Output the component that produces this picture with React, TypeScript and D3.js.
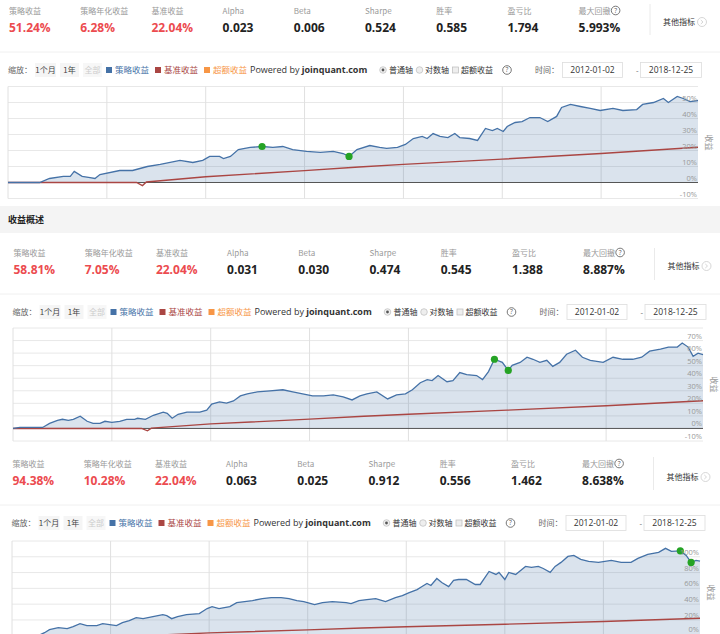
import React from 'react';
import * as d3 from 'd3';

const LATIN = "'Open Sans','Noto Sans CJK SC',sans-serif";
const CJK = "'Noto Sans CJK SC','Open Sans',sans-serif";

const STAT_LABELS = ['策略收益', '策略年化收益', '基准收益', 'Alpha', 'Beta', 'Sharpe', '胜率', '盈亏比', '最大回撤'];
const STAT_VALUES_1 = ['51.24%', '6.28%', '22.04%', '0.023', '0.006', '0.524', '0.585', '1.794', '5.993%'];
const STAT_VALUES_2 = ['58.81%', '7.05%', '22.04%', '0.031', '0.030', '0.474', '0.545', '1.388', '8.887%'];
const STAT_VALUES_3 = ['94.38%', '10.28%', '22.04%', '0.063', '0.025', '0.912', '0.556', '1.462', '8.638%'];

const DATE_FROM = '2012-01-02';
const DATE_TO = '2018-12-25';
const T_START = 2012.0;
const T_END = 2018.98;
const YEAR_LINES = [2013, 2014, 2015, 2016, 2017, 2018];

const Y_TICKS_1 = [-10, 0, 10, 20, 30, 40, 50, 60];
const Y_TICKS_2 = [-10, 0, 10, 20, 30, 40, 50, 60, 70, 80];
const Y_TICKS_3 = [-20, 0, 20, 40, 60, 80, 100, 120];

// benchmark (same in all three backtests), [year, %]
const BENCHMARK: [number, number][] = [
  [2012.0, 0], [2013.3, 0], [2013.36, -1.9], [2013.4, 0.3], [2014.0, 3.6], [2015.0, 7.4],
  [2015.55, 9.7], [2016.0, 11.3], [2017.0, 14.6], [2018.0, 18.1], [2018.98, 22.04],
];

const STRATEGY_1: [number, number][] = [
  [2012.0, 0], [2012.32, 0], [2012.42, 2.5], [2012.56, 3.8], [2012.63, 3.8], [2012.67, 6.9], [2012.75, 3.8],
  [2012.83, 3.1], [2012.88, 2.5], [2012.93, 5.0], [2013.13, 7.5], [2013.26, 7.5], [2013.41, 10.0], [2013.54, 11.3],
  [2013.74, 13.8], [2013.87, 12.5], [2013.97, 13.8], [2014.04, 16.3], [2014.14, 16.3], [2014.18, 15.0], [2014.25, 16.3],
  [2014.33, 20.6], [2014.45, 21.9], [2014.57, 22.5], [2014.68, 21.9], [2014.78, 22.5], [2014.88, 20.6], [2015.02, 19.4],
  [2015.16, 18.8], [2015.29, 19.4], [2015.39, 18.1], [2015.45, 16.3], [2015.53, 20.6], [2015.66, 23.1], [2015.76, 21.9],
  [2015.83, 21.3], [2015.94, 21.9], [2016.02, 23.8], [2016.1, 27.5], [2016.19, 28.8], [2016.24, 27.5], [2016.3, 30.6],
  [2016.37, 28.8], [2016.45, 28.1], [2016.52, 30.6], [2016.57, 28.1], [2016.67, 27.5], [2016.75, 26.3], [2016.83, 33.8],
  [2016.9, 32.5], [2016.95, 33.8], [2017.01, 31.9], [2017.05, 35.0], [2017.13, 37.5], [2017.2, 38.1], [2017.28, 40.6],
  [2017.38, 40.6], [2017.46, 38.1], [2017.55, 41.3], [2017.6, 46.9], [2017.69, 48.8], [2017.79, 47.5], [2017.89, 46.3],
  [2017.99, 45.0], [2018.12, 46.3], [2018.22, 45.0], [2018.36, 45.6], [2018.42, 48.8], [2018.53, 50.0], [2018.63, 52.5],
  [2018.68, 50.0], [2018.77, 53.8], [2018.83, 52.5], [2018.9, 50.6], [2018.98, 51.24],
];
const DRAWDOWN_1: [number, number][] = [[2014.57, 22.5], [2015.45, 16.3]];

const STRATEGY_2: [number, number][] = [
  [2012.0, 0], [2012.07, 0.8], [2012.14, 0.8], [2012.3, 0.8], [2012.37, 4.0], [2012.45, 6.5], [2012.5, 7.3],
  [2012.56, 6.5], [2012.61, 7.3], [2012.68, 9.7], [2012.75, 5.7], [2012.81, 4.0], [2012.88, 4.0], [2012.93, 5.7],
  [2013.0, 4.9], [2013.08, 5.7], [2013.15, 7.3], [2013.23, 7.3], [2013.26, 8.1], [2013.34, 7.3], [2013.42, 10.5],
  [2013.52, 13.0], [2013.56, 12.1], [2013.61, 8.1], [2013.67, 11.3], [2013.76, 13.0], [2013.89, 13.0], [2013.96, 14.6],
  [2014.01, 19.4], [2014.09, 21.1], [2014.16, 20.2], [2014.23, 21.9], [2014.3, 25.9], [2014.37, 27.5], [2014.47, 29.1],
  [2014.6, 30.0], [2014.73, 30.8], [2014.83, 29.1], [2014.93, 27.5], [2015.03, 25.9], [2015.14, 25.9], [2015.24, 26.7],
  [2015.34, 25.1], [2015.43, 22.7], [2015.51, 25.9], [2015.58, 27.5], [2015.68, 29.1], [2015.79, 23.5], [2015.88, 26.7],
  [2015.97, 27.5], [2016.04, 30.8], [2016.12, 36.4], [2016.19, 38.9], [2016.24, 38.1], [2016.3, 42.1], [2016.39, 37.2],
  [2016.45, 38.1], [2016.52, 44.5], [2016.59, 42.9], [2016.69, 42.1], [2016.75, 38.9], [2016.81, 45.3], [2016.87, 55.1],
  [2016.95, 52.6], [2017.01, 46.2], [2017.05, 50.2], [2017.13, 52.6], [2017.2, 56.7], [2017.26, 55.1], [2017.33, 52.6],
  [2017.4, 54.3], [2017.46, 49.4], [2017.53, 52.6], [2017.6, 59.1], [2017.69, 62.3], [2017.76, 56.7], [2017.84, 54.3],
  [2017.97, 52.6], [2018.07, 56.7], [2018.17, 55.1], [2018.27, 55.1], [2018.36, 56.7], [2018.44, 61.5], [2018.55, 63.2],
  [2018.63, 64.8], [2018.72, 64.8], [2018.77, 68.0], [2018.83, 64.8], [2018.88, 57.5], [2018.93, 59.9], [2018.98, 58.81],
];
const DRAWDOWN_2: [number, number][] = [[2016.87, 55.1], [2017.01, 46.2]];

const STRATEGY_3: [number, number][] = [
  [2012.0, 0], [2012.07, 0.5], [2012.28, 1.0], [2012.33, 3.8], [2012.38, 7.6], [2012.47, 10.2], [2012.56, 8.9],
  [2012.62, 11.5], [2012.69, 15.3], [2012.76, 12.7], [2012.86, 12.7], [2012.92, 15.3], [2012.99, 14.0], [2013.06, 12.7],
  [2013.12, 16.5], [2013.19, 19.1], [2013.26, 22.9], [2013.33, 21.6], [2013.43, 24.2], [2013.53, 26.7], [2013.57, 25.4],
  [2013.62, 21.6], [2013.68, 24.2], [2013.77, 26.7], [2013.9, 28.0], [2013.98, 34.4], [2014.03, 36.9], [2014.1, 34.4],
  [2014.21, 36.9], [2014.28, 42.0], [2014.36, 43.3], [2014.44, 44.5], [2014.54, 47.1], [2014.63, 48.3], [2014.73, 48.3],
  [2014.81, 47.1], [2014.89, 44.5], [2014.96, 43.3], [2015.07, 39.4], [2015.15, 42.0], [2015.25, 43.3], [2015.39, 42.0],
  [2015.44, 40.7], [2015.52, 44.5], [2015.6, 45.8], [2015.69, 47.1], [2015.79, 43.3], [2015.89, 48.3], [2015.96, 50.9],
  [2016.03, 54.7], [2016.11, 58.5], [2016.16, 62.3], [2016.21, 66.2], [2016.25, 63.6], [2016.31, 72.5], [2016.36, 67.4],
  [2016.43, 62.3], [2016.48, 70.0], [2016.53, 71.2], [2016.61, 71.2], [2016.7, 64.9], [2016.75, 64.9], [2016.84, 81.4],
  [2016.91, 77.6], [2016.94, 80.2], [2017.0, 71.2], [2017.04, 80.2], [2017.11, 77.6], [2017.16, 82.7], [2017.21, 87.8],
  [2017.27, 86.5], [2017.34, 87.8], [2017.39, 85.2], [2017.46, 80.2], [2017.51, 87.8], [2017.57, 92.9], [2017.64, 100.5],
  [2017.7, 101.8], [2017.77, 96.7], [2017.85, 94.1], [2017.95, 92.9], [2018.08, 95.4], [2018.18, 92.9], [2018.28, 92.9],
  [2018.35, 98.0], [2018.45, 103.1], [2018.56, 105.6], [2018.63, 110.7], [2018.69, 106.9], [2018.78, 107.5],
  [2018.84, 101.8], [2018.89, 92.9], [2018.94, 95.4], [2018.98, 94.38],
];
const DRAWDOWN_3: [number, number][] = [[2018.78, 107.5], [2018.89, 92.9]];

const BLUE = '#4572a7';
const RED = '#aa4643';
const ORANGE = '#f79646';
const VALUE_RED = '#ec4b4f';
const PAGE_H = 634;

type Cfg = {
  dx: number; labelY: number; valueY: number; sepTop: number; sepBottom: number; otherY: number;
  toolY: number; L: number; R: number; top: number; bottom: number; ticks: number[];
};

function QIcon({ x, y }: { x: number; y: number }) {
  return (
    <g>
      <circle cx={x} cy={y} r={4.3} fill="none" stroke="#555" strokeWidth={0.8} />
      <text x={x} y={y + 2.4} textAnchor="middle" fontSize={6.5} fill="#555" fontFamily={LATIN}>?</text>
    </g>
  );
}

function Stats({ cfg, values }: { cfg: Cfg; values: string[] }) {
  const colX = (i: number) => 9 + cfg.dx + i * 71.2;
  return (
    <g>
      {STAT_LABELS.map((l, i) => (
        <text key={'l' + i} x={colX(i)} y={cfg.labelY} fontSize={8} fill="#999" fontFamily={CJK}>{l}</text>
      ))}
      <QIcon x={colX(8) + 37} y={cfg.labelY - 3} />
      {values.map((v, i) => (
        <text key={'v' + i} x={colX(i)} y={cfg.valueY} fontSize={12} fontWeight="bold"
          fill={i < 3 ? VALUE_RED : '#222'} fontFamily={LATIN}>{v}</text>
      ))}
      <line x1={650 + cfg.dx} x2={650 + cfg.dx} y1={cfg.sepTop} y2={cfg.sepBottom} stroke="#eaeaea" />
      <text x={663 + cfg.dx} y={cfg.otherY + 3} fontSize={8} fill="#333" fontFamily={CJK}>其他指标</text>
      <circle cx={702 + cfg.dx} cy={cfg.otherY} r={4.5} fill="none" stroke="#ccc" strokeWidth={0.8} />
      <path d={`M${700.8 + cfg.dx},${cfg.otherY - 2} L${703 + cfg.dx},${cfg.otherY} L${700.8 + cfg.dx},${cfg.otherY + 2}`}
        fill="none" stroke="#ccc" strokeWidth={0.8} />
    </g>
  );
}

function Toolbar({ cfg }: { cfg: Cfg }) {
  const y = cfg.toolY;
  const ty = y + 3;
  const d = cfg.dx;
  return (
    <g fontFamily={CJK} fontSize={8}>
      <line x1={0} x2={720} y1={y - 18} y2={y - 18} stroke="#f0f0f0" />
      <text x={8 + d} y={ty} fill="#666">缩放：</text>
      <rect x={35 + d} y={y - 7} width={21} height={14} fill="#f5f5f5" />
      <text x={45.5 + d} y={ty} textAnchor="middle" fill="#444">1个月</text>
      <rect x={60 + d} y={y - 7} width={19} height={14} fill="#f5f5f5" />
      <text x={69.5 + d} y={ty} textAnchor="middle" fill="#444">1年</text>
      <rect x={83 + d} y={y - 7} width={19} height={14} fill="#f7f7f7" />
      <text x={92.5 + d} y={ty} textAnchor="middle" fill="#ccc">全部</text>
      <rect x={106 + d} y={y - 3} width={6} height={6} fill={BLUE} />
      <text x={115 + d} y={ty} fill={BLUE} fontSize={8.5}>策略收益</text>
      <rect x={155 + d} y={y - 3} width={6} height={6} fill={RED} />
      <text x={164 + d} y={ty} fill={RED} fontSize={8.5}>基准收益</text>
      <rect x={204 + d} y={y - 3} width={6} height={6} fill={ORANGE} />
      <text x={213 + d} y={ty} fill={ORANGE} fontSize={8.5}>超额收益</text>
      <text x={250 + d} y={ty} fill="#333" fontFamily={LATIN} fontSize={9}>
        Powered by <tspan fontWeight="bold">joinquant.com</tspan>
      </text>
      <circle cx={383 + d} cy={y} r={3.3} fill="#f0f0f0" stroke="#bbb" strokeWidth={0.7} />
      <circle cx={383 + d} cy={y} r={1.4} fill="#555" />
      <text x={389 + d} y={ty} fill="#333">普通轴</text>
      <circle cx={419.5 + d} cy={y} r={3.3} fill="#eee" stroke="#bbb" strokeWidth={0.7} />
      <text x={425 + d} y={ty} fill="#333">对数轴</text>
      <rect x={452.5 + d} y={y - 3} width={6} height={6} fill="#eee" stroke="#bbb" strokeWidth={0.7} />
      <text x={461 + d} y={ty} fill="#333">超额收益</text>
      <QIcon x={507 + d} y={y} />
      <text x={535 + d} y={ty} fill="#666">时间：</text>
      <rect x={562.5 + d} y={y - 7.5} width={60} height={15} fill="#fff" stroke="#ddd" strokeWidth={0.8} />
      <text x={592.5 + d} y={ty} textAnchor="middle" fill="#333" fontFamily={LATIN} fontSize={8.5}>{DATE_FROM}</text>
      <text x={636 + d} y={ty} fill="#666" fontFamily={LATIN}>-</text>
      <rect x={640.5 + d} y={y - 7.5} width={61} height={15} fill="#fff" stroke="#ddd" strokeWidth={0.8} />
      <text x={671 + d} y={ty} textAnchor="middle" fill="#333" fontFamily={LATIN} fontSize={8.5}>{DATE_TO}</text>
    </g>
  );
}

function Chart({ cfg, strategy, drawdown }: { cfg: Cfg; strategy: [number, number][]; drawdown: [number, number][] }) {
  const ticks = cfg.ticks;
  const x = d3.scaleLinear().domain([T_START, T_END]).range([cfg.L, cfg.R]);
  const y = d3.scaleLinear().domain([ticks[0], ticks[ticks.length - 1]]).range([cfg.bottom, cfg.top]);
  const line = d3.line<[number, number]>().x(d => x(d[0])).y(d => y(d[1]));
  const area = d3.area<[number, number]>().x(d => x(d[0])).y0(y(0)).y1(d => y(d[1]));
  const id = 'clip' + cfg.toolY;
  const labelTicks = ticks.slice(0, -1).filter(t => y(t) - 2 < PAGE_H + 2);
  return (
    <g>
      <defs>
        <clipPath id={id}><rect x={cfg.L} y={cfg.top - 5} width={cfg.R - cfg.L + 4} height={cfg.bottom - cfg.top + 5} /></clipPath>
      </defs>
      {ticks.map(t => (
        <line key={'h' + t} x1={cfg.L} x2={cfg.R} y1={y(t)} y2={y(t)} stroke="#e8e8e8" />
      ))}
      {YEAR_LINES.map(yr => (
        <line key={'v' + yr} x1={x(yr)} x2={x(yr)} y1={cfg.top} y2={cfg.bottom} stroke="#e0e0e0" />
      ))}
      <line x1={cfg.L} x2={cfg.L} y1={cfg.top} y2={cfg.bottom} stroke="#e0e0e0" />
      <g clipPath={`url(#${id})`}>
        <path d={area(strategy) || ''} fill={BLUE} fillOpacity={0.2} />
        <line x1={cfg.L} x2={cfg.R} y1={y(0)} y2={y(0)} stroke="#555" strokeWidth={1} />
        <path d={line(BENCHMARK) || ''} fill="none" stroke={RED} strokeWidth={1.4} />
        <path d={line(strategy) || ''} fill="none" stroke={BLUE} strokeWidth={1.3} />
      </g>
      {drawdown.map((p, i) => (
        <circle key={'d' + i} cx={x(p[0])} cy={y(p[1])} r={3.6} fill="#25a325" />
      ))}
      {labelTicks.map(t => (
        <text key={'t' + t} x={cfg.R - 1} y={Math.min(y(t) - 2, PAGE_H - 2)} textAnchor="end" fontSize={7.5}
          fill="#999" fontFamily={LATIN}>{t}%</text>
      ))}
      <text transform={`translate(${cfg.R + 8},${(cfg.top + Math.min(cfg.bottom, PAGE_H + 10)) / 2}) rotate(90)`}
        textAnchor="middle" fontSize={8} fill="#999" fontFamily={CJK}>收益</text>
    </g>
  );
}

const CFG_1: Cfg = { dx: 0, labelY: 13.5, valueY: 31.5, sepTop: 4, sepBottom: 35, otherY: 22, toolY: 70,
  L: 8, R: 698, top: 86.5, bottom: 198.5, ticks: Y_TICKS_1 };
const CFG_2: Cfg = { dx: 4.5, labelY: 255.5, valueY: 273.5, sepTop: 248, sepBottom: 280, otherY: 266, toolY: 312,
  L: 13, R: 703, top: 328, bottom: 441, ticks: Y_TICKS_2 };
const CFG_3: Cfg = { dx: 3.5, labelY: 466.5, valueY: 484.5, sepTop: 457, sepBottom: 490, otherY: 477, toolY: 523,
  L: 12, R: 700, top: 541, bottom: 651.5, ticks: Y_TICKS_3 };

export default function App() {
  return (
    <svg width={720} height={634} style={{ position: 'absolute', left: 0, top: 0, display: 'block', background: '#fff' }}>
      <rect x={0} y={0} width={720} height={634} fill="#fff" />
      <Stats cfg={CFG_1} values={STAT_VALUES_1} />
      <Toolbar cfg={CFG_1} />
      <Chart cfg={CFG_1} strategy={STRATEGY_1} drawdown={DRAWDOWN_1} />

      <rect x={0} y={206} width={720} height={27} fill="#f4f4f4" />
      <text x={8} y={223} fontSize={9} fontWeight="bold" fill="#222" fontFamily={CJK}>收益概述</text>

      <Stats cfg={CFG_2} values={STAT_VALUES_2} />
      <Toolbar cfg={CFG_2} />
      <Chart cfg={CFG_2} strategy={STRATEGY_2} drawdown={DRAWDOWN_2} />

      <Stats cfg={CFG_3} values={STAT_VALUES_3} />
      <Toolbar cfg={CFG_3} />
      <Chart cfg={CFG_3} strategy={STRATEGY_3} drawdown={DRAWDOWN_3} />
    </svg>
  );
}
